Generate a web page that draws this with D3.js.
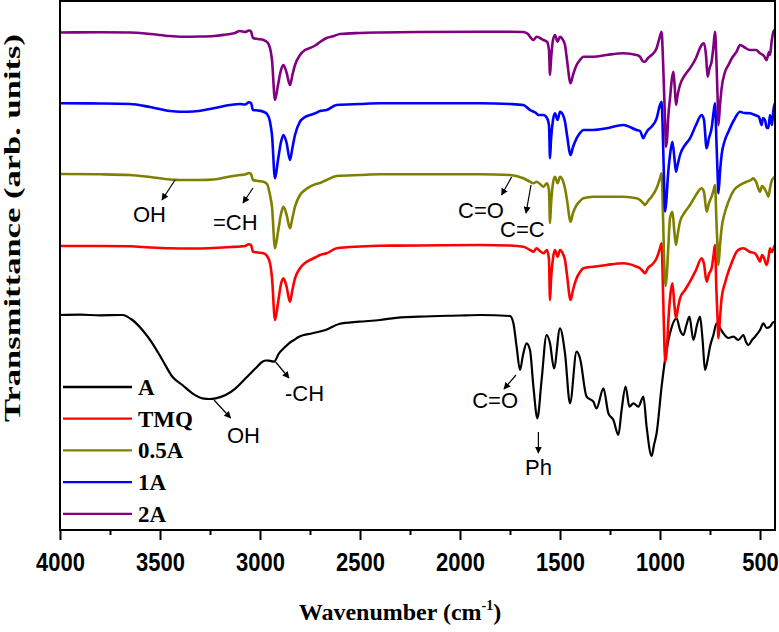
<!DOCTYPE html>
<html>
<head>
<meta charset="utf-8">
<script src="https://cdn.jsdelivr.net/npm/d3@7"></script>
<style>
body { margin: 0; background: #fff; }
</style>
</head>
<body>
<div id="chart"></div>
<script>

// spectra: [wavenumber, transmittance (arb.)], baseline ~100
var specA = [[4000,100],[3900,100.3],[3800,99.7],[3700,100],[3688,100],[3638,95],[3588,85],[3538,71.7],[3488,55],[3438,38.3],[3388,30],[3338,21.7],[3288,16.7],[3250,16],[3222,16.7],[3172,20],[3122,26.7],[3072,36.7],[3022,46.7],[2988,53.3],[2970,54.5],[2955,54.3],[2930,53.3],[2905,61.7],[2880,67],[2855,71.7],[2830,75],[2805,78.3],[2738,81.7],[2672,85],[2605,91],[2505,93.3],[2400,95],[2338,96.7],[2205,98.3],[2000,99.5],[1900,100],[1750,99],[1733,91.7],[1717,68.3],[1700,45],[1685,60],[1667,71.7],[1650,65],[1633,28.3],[1613,-3.3],[1592,35],[1567,80],[1550,71.7],[1530,46.7],[1500,86.7],[1475,61.7],[1450,11.7],[1417,63.3],[1400,56.7],[1367,18.3],[1333,13.3],[1317,6.7],[1283,26.7],[1258,1.7],[1233,-5],[1208,-20],[1192,5],[1172,28.3],[1153,8.3],[1133,11.7],[1108,8.3],[1083,18.3],[1067,-11.7],[1042,-41],[1030,-30],[1017,-18.3],[992,28.3],[975,55],[950,81.7],[917,96.7],[900,85],[883,80],[868,90],[853,98.3],[833,75],[815,90],[800,98.3],[787,75],[775,45],[762,55],[750,68.3],[733,80],[717,91.7],[700,87],[683,81.7],[658,77],[633,78.3],[608,75],[583,80],[570,73],[558,70],[540,75],[525,78.3],[500,85],[483,91.7],[467,87],[450,88.3],[433,93],[418,90]];

var specTMQ = [[4000,100],[3800,100],[3650,99.7],[3550,98.5],[3450,97.7],[3350,97.5],[3233,98],[3150,99],[3100,99.5],[3075,100],[3055,101.7],[3045,101],[3035,94.3],[3010,93.5],[2983,92.7],[2965,90],[2950,82.7],[2940,68],[2925,26],[2910,43],[2895,62],[2883,67.7],[2868,60],[2850,44.3],[2838,56],[2825,67.7],[2800,77.7],[2775,83],[2750,86],[2720,89],[2700,91],[2667,92.7],[2617,97.7],[2500,99.5],[2400,100.3],[2200,100.5],[1900,101],[1750,100.5],[1683,99.3],[1650,96],[1633,94.3],[1617,97.7],[1600,95],[1583,92.7],[1565,96],[1555,86],[1550,46],[1545,66],[1535,88],[1525,96],[1512,89.3],[1500,96],[1485,92],[1475,86],[1465,71],[1447,46],[1435,56],[1417,67.7],[1400,74],[1383,77.7],[1333,79.3],[1267,81],[1183,82.7],[1117,79.3],[1100,77.7],[1083,74.3],[1075,72.7],[1060,78],[1042,81],[1017,87.7],[1000,97.7],[992,102.7],[985,56],[978,1],[973,-15.7],[966,-4],[958,26],[950,47.7],[938,62.7],[928,41],[920,27.7],[912,36],[900,47.7],[875,56],[850,64.3],[820,76],[792,87.7],[780,82],[767,64.3],[755,72],[742,77.7],[732,91],[725,101],[718,56],[710,16],[708,7.7],[700,28],[692,47.7],[675,63],[658,74.3],[640,84],[617,94.3],[600,97],[583,97.7],[550,94],[525,92.7],[510,88],[500,84.3],[490,91],[480,88],[467,81],[458,88],[450,97.7],[440,94],[425,101],[418,99]];

var spec05A = [[4000,100],[3800,99.7],[3650,99],[3550,97],[3450,94.5],[3400,94],[3300,94],[3233,94.5],[3150,97.5],[3100,99],[3075,99.5],[3055,101],[3045,100],[3035,94],[3010,93],[2983,92.3],[2965,90],[2950,79],[2940,67],[2925,25.7],[2910,42],[2895,60],[2883,67.3],[2868,60],[2850,45.7],[2838,56],[2825,67.3],[2800,79],[2775,84],[2750,87.3],[2720,90],[2700,91],[2667,94],[2617,98],[2500,99],[2400,99.7],[2200,99.7],[1900,99.7],[1750,99],[1683,95.7],[1650,92.3],[1633,90.7],[1617,92.3],[1600,90],[1583,87.3],[1565,90.7],[1555,84],[1550,51],[1545,69],[1535,91],[1525,97.3],[1512,90.7],[1500,97.3],[1485,93],[1475,85.7],[1465,74],[1447,52.3],[1435,61],[1417,69],[1400,73],[1383,75.7],[1333,77.3],[1267,77.3],[1183,77.3],[1117,75.7],[1100,74],[1083,70.7],[1075,69],[1060,73],[1042,77.3],[1017,85.7],[1000,95.7],[992,100.7],[985,59],[978,4],[972,-12],[966,-1],[958,29],[950,55.7],[938,62.3],[928,42],[920,29],[912,39],[900,52.3],[875,62],[850,69],[820,79],[792,85.7],[780,82],[767,62.3],[755,71],[742,77.3],[732,84],[725,89],[718,54],[710,16],[708,9],[700,29],[692,45.7],[675,62],[658,72.3],[630,84],[600,89],[570,92],[545,94],[533,95.7],[520,92.3],[500,82.3],[490,88],[480,86],[466,81],[458,77.3],[448,88],[440,94],[433,95.7],[418,99]];

var spec1A = [[4000,99.7],[3800,99.5],[3650,99],[3550,96],[3450,92],[3400,91.3],[3333,91.5],[3250,94],[3150,98],[3100,99],[3075,98.5],[3055,100.7],[3045,100],[3035,93],[3010,92.5],[2983,91.3],[2965,89],[2950,81.3],[2940,68],[2925,24.7],[2910,43],[2895,61],[2883,68],[2868,61],[2850,43],[2838,55],[2825,68],[2800,81.3],[2775,86],[2750,88],[2720,90],[2700,92],[2667,93],[2617,98],[2500,99],[2400,99.7],[2200,99.7],[1900,99.7],[1750,99],[1683,98],[1650,93],[1620,90],[1608,88],[1583,88],[1565,85],[1555,78],[1550,44.7],[1545,63],[1535,83],[1525,89.7],[1512,83],[1500,91.3],[1485,88],[1475,81.3],[1465,68],[1447,48],[1435,56],[1417,64.7],[1400,70],[1383,73],[1333,73],[1267,74.7],[1183,78],[1117,73],[1100,72],[1083,64.7],[1075,68],[1060,73],[1042,76.3],[1017,84.7],[1000,98],[992,101.3],[985,63],[978,8],[975,-8.7],[968,3],[960,28],[950,48],[938,61.3],[928,45],[920,31.3],[912,38],[900,48],[875,58],[850,64.7],[820,78],[792,88],[780,83],[767,54.7],[755,65],[742,74.7],[732,91],[725,99.7],[718,63],[710,18],[708,9.7],[700,31],[692,48],[675,63],[658,71.3],[630,83],[600,91.3],[580,90],[550,89.7],[525,88],[505,86],[492,78],[485,85],[475,83],[466,75],[458,75],[450,88],[440,78],[433,93],[425,100],[418,98]];

var spec2A = [[4000,100],[3800,100.2],[3650,100],[3550,98.5],[3450,96.5],[3400,95.8],[3300,96],[3230,96.5],[3170,98],[3130,99.2],[3100,101.5],[3075,100.5],[3055,102],[3045,101],[3035,94.5],[3010,93.5],[2983,92.5],[2965,90.5],[2950,84.5],[2940,72.5],[2925,32.5],[2910,47.5],[2895,62.5],[2883,67.5],[2868,60.5],[2850,47.5],[2838,57.5],[2825,67.5],[2800,77.5],[2775,82.5],[2750,84.5],[2720,87.5],[2700,90.5],[2667,94.5],[2630,96.5],[2600,98.5],[2500,99.5],[2400,100],[2200,100.5],[1900,100.8],[1750,100.8],[1683,100.5],[1660,98.5],[1650,95.8],[1633,92.5],[1617,95.8],[1600,94.5],[1583,92.5],[1565,90.8],[1555,82.5],[1550,57.5],[1545,72.5],[1535,92.5],[1525,97.5],[1512,90.8],[1500,95.8],[1485,92.5],[1475,87.5],[1465,72.5],[1447,49.2],[1435,57.5],[1417,67.5],[1400,72.5],[1383,75.8],[1333,75.8],[1267,77.5],[1183,79.2],[1117,77.5],[1100,75.8],[1083,70.8],[1075,70.8],[1060,74.5],[1042,77.5],[1017,84.2],[1003,94.2],[992,100.8],[985,72.5],[975,12.5],[970,-14.2],[965,-7.5],[958,17.5],[950,34.2],[940,54.5],[933,60.8],[927,47.5],[920,27.5],[912,37.5],[900,47.5],[875,57.5],[850,64.2],[820,74.5],[800,84.5],[792,87.5],[780,89.2],[770,77.5],[762,55.8],[752,64.5],[742,70.8],[732,87.5],[725,100.8],[718,72.5],[710,22.5],[708,7.5],[700,27.5],[692,44.2],[675,60.5],[658,67.5],[640,74.5],[617,80.8],[600,87.5],[580,85.5],[550,82.5],[520,82.5],[500,79.2],[480,76.5],[467,72.5],[455,80.5],[450,77.5],[442,90.8],[433,100.8],[418,104.5]];

var seriesNames = ["A", "TMQ", "0.5A", "1A", "2A"];
var seriesData = [specA, specTMQ, spec05A, spec1A, spec2A];
var seriesColors = ["#000000", "#ff0000", "#808000", "#0000ff", "#800080"];
var stackOffset = [115, 184, 256, 327, 397.5];

var xTicks = [4000, 3500, 3000, 2500, 2000, 1500, 1000, 500];
var xMinorTicks = [3750, 3250, 2750, 2250, 1750, 1250, 750];

// peak labels: [text, arrow from wn, from level, to wn, to level, text wn, text level, anchor]
var peakLabels = [
    ["OH", 3425, 350, 3490, 330, 3635, 308, "start"],
    ["=CH", 3035, 342, 3085, 327, 3235, 300, "start"],
    ["C=O", 1742, 353, 1792, 335, 2010, 312, "start"],
    ["C=C", 1645, 345, 1670, 317, 1800, 293, "start"],
    ["OH", 3230, 130, 3147, 112, 3165, 87, "start"],
    ["-CH", 2922, 168, 2855, 152, 2875, 129, "start"],
    ["C=O", 1720, 155, 1780, 141, 1710, 122, "end"],
    ["Ph", 1608, 98, 1608, 77, 1675, 55, "start"]
];

var svgW = 779;
var svgH = 632;
var margin = { left: 60, right: 4, top: 1, bottom: 102 };

var svg = d3.select("#chart")
    .append("svg")
    .attr("width", svgW)
    .attr("height", svgH);

var x = d3.scaleLinear()
    .domain([4000, 425])
    .range([margin.left, svgW - margin.right]);

var y = d3.scaleLinear()
    .domain([0, 529])
    .range([svgH - margin.bottom, margin.top]);

svg.append("defs").append("clipPath")
    .attr("id", "plotclip")
    .append("rect")
    .attr("x", margin.left)
    .attr("y", margin.top)
    .attr("width", svgW - margin.right - margin.left)
    .attr("height", svgH - margin.bottom - margin.top);

svg.append("defs").append("marker")
    .attr("id", "arrow")
    .attr("viewBox", "0 0 10 10")
    .attr("refX", 9)
    .attr("refY", 5)
    .attr("markerWidth", 7)
    .attr("markerHeight", 7)
    .attr("markerUnits", "userSpaceOnUse")
    .attr("orient", "auto")
    .append("path")
    .attr("d", "M0,0 L10,5 L0,10 z")
    .attr("fill", "#000");

var plot = svg.append("g").attr("clip-path", "url(#plotclip)");

seriesData.forEach(function (data, i) {
    var line = d3.line()
        .x(d => x(d[0]))
        .y(d => y(d[1] + stackOffset[i]))
        .curve(d3.curveMonotoneX);
    plot.append("path")
        .datum(data)
        .attr("fill", "none")
        .attr("stroke", seriesColors[i])
        .attr("stroke-width", i == 0 ? 2.2 : 2.6)
        .attr("stroke-linejoin", "round")
        .attr("d", line);
});

// peak assignments
peakLabels.forEach(function (p) {
    svg.append("line")
        .attr("x1", x(p[1])).attr("y1", y(p[2]))
        .attr("x2", x(p[3])).attr("y2", y(p[4]))
        .attr("stroke", "#000")
        .attr("stroke-width", 1.2)
        .attr("marker-end", "url(#arrow)");
    svg.append("text")
        .attr("x", x(p[5]))
        .attr("y", y(p[6]))
        .attr("text-anchor", p[7])
        .attr("style", "font-family:'Liberation Sans',Arial,sans-serif;font-size:22px")
        .text(p[0]);
});

// axes
var bottomAxis = d3.axisBottom(x)
    .tickValues(xTicks)
    .tickSize(10)
    .tickFormat(d3.format("d"));
var minorAxis = d3.axisBottom(x)
    .tickValues(xMinorTicks)
    .tickSize(5)
    .tickFormat("");

var gx = svg.append("g")
    .attr("transform", `translate(0, ${svgH - margin.bottom})`)
    .call(bottomAxis);
gx.select(".domain").remove();
gx.selectAll("line").attr("stroke-width", 2);
gx.selectAll("text")
    .attr("y", 0)
    .attr("dy", null)
    .attr("transform", "translate(0,41) scale(1,1.2)")
    .attr("style", "font-family:'Liberation Sans',Arial,sans-serif;font-size:22px;font-weight:bold")
    .attr("fill", "#000");

var gm = svg.append("g")
    .attr("transform", `translate(0, ${svgH - margin.bottom})`)
    .call(minorAxis);
gm.select(".domain").remove();
gm.selectAll("line").attr("stroke-width", 2);

// frame
svg.append("rect")
    .attr("x", margin.left)
    .attr("y", margin.top)
    .attr("width", svgW - margin.right - margin.left)
    .attr("height", svgH - margin.bottom - margin.top)
    .attr("fill", "none")
    .attr("stroke", "#000")
    .attr("stroke-width", 2);

// axis titles
var xt = svg.append("text")
    .attr("x", 400)
    .attr("y", 620)
    .attr("text-anchor", "middle")
    .attr("style", "font-family:'Liberation Serif','Times New Roman',serif;font-size:24px;font-weight:bold");
xt.append("tspan").text("Wavenumber (cm");
xt.append("tspan").attr("dy", -10).attr("style", "font-size:14px").text("-1");
xt.append("tspan").attr("dy", 10).text(")");

svg.append("text")
    .attr("transform", "rotate(-90)")
    .attr("x", -228)
    .attr("y", 20)
    .attr("text-anchor", "middle")
    .attr("textLength", 388)
    .attr("lengthAdjust", "spacingAndGlyphs")
    .attr("style", "font-family:'Liberation Serif','Times New Roman',serif;font-size:23px;font-weight:bold")
    .text("Transmittance (arb. units)");

// legend
var legend = svg.append("g");
seriesNames.forEach(function (name, i) {
    var ly = 387 + i * 31.7;
    legend.append("line")
        .attr("x1", 63).attr("x2", 132)
        .attr("y1", ly).attr("y2", ly)
        .attr("stroke", seriesColors[i])
        .attr("stroke-width", 2.3);
    legend.append("text")
        .attr("x", 138)
        .attr("y", ly + 8)
        .attr("style", "font-family:'Liberation Serif','Times New Roman',serif;font-size:23px;font-weight:bold")
        .text(name);
});

</script>
</body>
</html>
